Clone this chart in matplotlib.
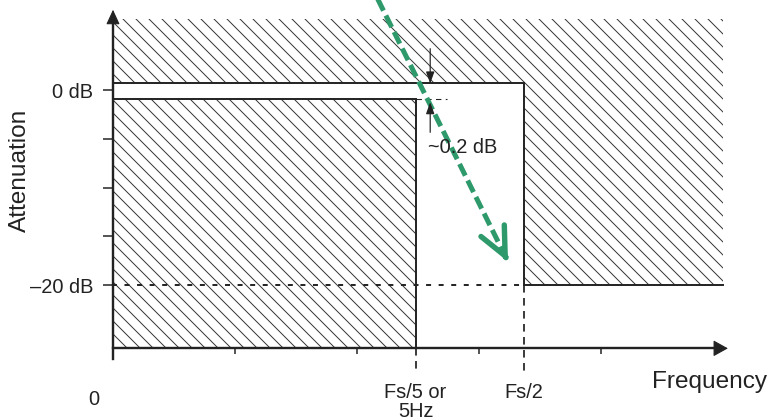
import matplotlib
matplotlib.use("Agg")
import matplotlib.pyplot as plt

plt.rcParams['font.family'] = ['Liberation Sans', 'DejaVu Sans']
plt.rcParams['hatch.linewidth'] = 0.9
plt.rcParams['lines.scale_dashes'] = False

# ---- data (schematic units: x in tick steps, y in dB) ----
y_ticks = [0, -5, -10, -15, -20]
y_tick_labels = ['0 dB', '', '', '', '\u201320 dB']
x_ticks = [1, 2, 3, 4]
f_pass = 2.48        # Fs/5 or 5Hz
f_stop = 3.37        # Fs/2
x_end = 5.0
pass_top = 0.72
pass_bottom = -0.87
stop_atten = -20
mask_top = 7.35
axis_bottom = -26.5
green_start = (2.15, 9.9)
green_tip = (3.238, -17.6)

INK = '#222222'
GREEN = '#2e9a6c'
HATCH = '\\\\'
DPI = 78

fig = plt.figure(figsize=(773 / DPI, 420 / DPI), dpi=DPI)
ax = fig.add_axes([0, 0, 1, 1])
ax.set_xlim(-113 / 122, (773 - 113) / 122)
ax.set_ylim((90.5 - 420) / 9.73, 90.5 / 9.73)
ax.patch.set_visible(False)

# hatched regions
ax.fill_between([0, f_stop, x_end], [pass_top, stop_atten, stop_atten], mask_top,
                step='post', facecolor='none', edgecolor='#333333', linewidth=0, hatch=HATCH)
ax.fill_between([0, f_pass], axis_bottom, pass_bottom,
                facecolor='none', edgecolor='#333333', linewidth=0, hatch=HATCH)

# boundary lines
ax.plot([0, f_stop, f_stop, x_end], [pass_top, pass_top, stop_atten, stop_atten],
        color=INK, lw=1.8, solid_joinstyle='miter')
ax.plot([0, f_pass, f_pass], [pass_bottom, pass_bottom, axis_bottom],
        color=INK, lw=1.8, solid_joinstyle='miter')

# dashed guides
ax.plot([0, f_stop], [stop_atten, stop_atten], color=INK, lw=1.8, ls=(1, (4.6, 7)))
ax.plot([f_pass, f_pass], [axis_bottom, -29.0], color=INK, lw=1.6, ls=(0, (7, 5)))
ax.plot([f_stop, f_stop], [stop_atten, -29.0], color=INK, lw=1.6, ls=(0, (7, 5)))
ax.plot([f_pass, 2.74], [pass_bottom, pass_bottom], color=INK, lw=1.0, ls=(0, (5, 4)))

# ~0.2 dB arrows
ax.annotate('', xy=(2.60, pass_top), xytext=(2.60, 4.3),
            arrowprops=dict(arrowstyle='-|>,head_length=0.5,head_width=0.18', color=INK,
                            lw=1.1, shrinkA=0, shrinkB=0, mutation_scale=18))
ax.annotate('', xy=(2.60, -1.2), xytext=(2.60, -4.3),
            arrowprops=dict(arrowstyle='-|>,head_length=0.5,head_width=0.18', color=INK,
                            lw=1.1, shrinkA=0, shrinkB=0, mutation_scale=18))
ax.text(2.58, -5.9, '~0.2 dB', fontsize=18.5, color=INK, ha='left', va='center',
        bbox=dict(facecolor='none', edgecolor='none', pad=0))

# green dashed arrow
ax.plot([green_start[0], green_tip[0]], [green_start[1], green_tip[1]],
        color=GREEN, lw=4.6, ls=(0, (12, 5)), solid_capstyle='butt')
dx = green_tip[0] - green_start[0]
dy = green_tip[1] - green_start[1]
ax.annotate('', xy=green_tip, xytext=(green_tip[0] - dx * 0.02, green_tip[1] - dy * 0.02),
            arrowprops=dict(arrowstyle='->,head_length=1.3,head_width=0.6', color=GREEN,
                            lw=5, shrinkA=0, shrinkB=0, mutation_scale=20))

# axes spines
for s in ['top', 'right']:
    ax.spines[s].set_visible(False)
ax.spines['left'].set_position(('data', 0))
ax.spines['bottom'].set_position(('data', axis_bottom))
ax.spines['left'].set_bounds(-27.6, 7.6)
ax.spines['bottom'].set_bounds(0, 4.95)
for s in ['left', 'bottom']:
    ax.spines[s].set_linewidth(2.2)
    ax.spines[s].set_color(INK)

ax.annotate('', xy=(0, 8.3), xytext=(0, 7.0),
            arrowprops=dict(arrowstyle='-|>,head_length=0.65,head_width=0.3', color=INK,
                            lw=1, shrinkA=0, shrinkB=0, mutation_scale=18))
ax.annotate('', xy=(5.04, axis_bottom), xytext=(4.9, axis_bottom),
            arrowprops=dict(arrowstyle='-|>,head_length=0.65,head_width=0.36', color=INK,
                            lw=1, shrinkA=0, shrinkB=0, mutation_scale=18))

ax.set_yticks(y_ticks, labels=y_tick_labels)
ax.set_xticks(x_ticks, labels=['' for _ in x_ticks])
ax.tick_params(axis='y', direction='out', length=9.2, width=1.4, pad=9.2,
               labelsize=18.5, colors=INK)
ax.tick_params(axis='x', direction='out', length=5.5, width=1.4, colors=INK)

# labels
ax.text(-0.76, -8.17, 'Attenuation', rotation=90, fontsize=22.5, color=INK,
        ha='center', va='center')
ax.text(4.42, -30.58, 'Frequency', fontsize=22.5, color=INK, ha='left', va='baseline')
ax.text(f_pass, -30.1, 'Fs/5 or\n5Hz', fontsize=18.5, color=INK, ha='center', va='top',
        linespacing=1.0)
ax.text(f_stop, -30.1, 'Fs/2', fontsize=18.5, color=INK, ha='center', va='top')
ax.text(-0.156, -31.8, '0', fontsize=18.5, color=INK, ha='center', va='center')

fig.savefig('out.png', dpi=DPI)
